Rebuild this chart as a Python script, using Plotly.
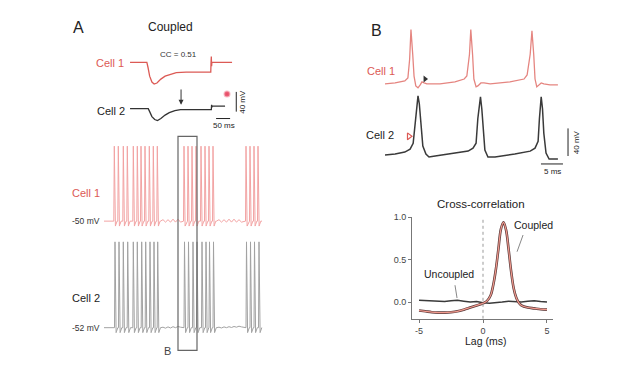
import plotly.graph_objects as go

# page body has an 8px margin; compensate so marks land on reference pixels
OX, OY = 8, 8
W, H = 606, 369
FONT = "Liberation Sans, Arial, sans-serif"
RED = "#dc5a55"
RED_LIGHT = "#f2a3a3"
DARK = "#222222"

def px(x):
    return (x - OX) / W

def py(y):
    return 1 - (y - OY) / H

# ---------------- Panel A (top): coupling test, ms vs mV deflection ----------------
cc_t1 = [0, 60, 64, 70, 78, 86, 96, 110, 125, 145, 165, 200, 288, 289, 290, 291, 292, 364]
cc_v1 = [0, 0, -10, -28, -40, -44, -42, -34, -28, -24, -21, -20, -20, 0, 12, -8, 0, 0]
cc_t2 = [0, 65, 70, 78, 88, 98, 110, 125, 140, 160, 180, 290, 291, 292, 293, 339]
cc_v2 = [0, 0, -6, -16, -22, -24, -20, -13, -8, -4, -2, -2, 8, 3, 5, 5]
cc_value = "CC = 0.51"
A_SCALE_MS = 50
A_SCALE_MV = 40

# ---------------- Panel A (bottom): spike trains ----------------
c1_spikes = [6.3, 10.3, 15.3, 19.3, 25.3, 29.3, 33, 37, 41.3, 45.3, 49.3,
             76, 80, 84, 88, 93, 97, 101, 105,
             138, 142, 146, 150]
c2_spikes = [7, 11, 15.3, 19.7, 25.3, 29.3, 33.7, 37.7, 42, 46, 49.7,
             76.5, 80.5, 85, 89, 94, 98, 101.5, 105.5,
             138.5, 142.5, 146.5, 151]
c1_base, c2_base = -50, -52
spike_dt = [-0.5, 0.0, 1.1, 1.6, 2.8]
c1_spike_shape = [0, 76, -5, -3.5, 0]
c2_spike_shape = [0, 87, -5, -3.5, 0]
c1_osc1 = [0, 1.5, -1, 1.5, -1, 2, -1, 2, -1]
c1_osc2 = [0, 1.5, -1, 1.5, -1, 2, -1, 2, -1, 1.5, -1]
c2_osc1 = [0, 0.5, -0.5, 0.8, -0.3, 1, 0, 1.2, 0.5]
c2_osc2 = [0, 0.5, -0.3, 0.8, 0, 1, 0.2, 1.2, 0.5, 1.5, 0.8]
osc_starts = [52.5, 108.5]
osc_step = 2.5
train_start, train_end = -4, 154
box_B = [70, 89]

# ---------------- Panel B (top): expanded traces ----------------
b_t1 = [0, 2.3, 4.5, 5.2, 5.6, 5.9, 6.3, 6.6, 7.0, 7.5, 8.0, 8.4, 8.9, 9.5, 12.5, 15.9, 18.0, 18.6, 19.2, 19.5,
        19.9, 20.2, 20.7, 21.1, 21.8, 22.5, 23.9, 28.4, 31.6, 32.3, 33.0, 33.4, 33.8, 34.1, 34.5, 35.0, 35.5, 36.1, 37.5, 39.3]
b_v1 = [-55, -53.6, -50.7, -46.4, -19.3, 23.6, -12.1, -43.6, -57.9, -60.7, -56.4, -52.1, -53.6, -55, -55, -52.1, -47.9, -43.6, -12.1, 23.6,
        -12.1, -47.9, -59.3, -57.9, -53.6, -53.6, -55, -52.1, -47.9, -42.1, -12.1, 22.1, -12.1, -47.9, -59.3, -56.4, -53.6, -55, -56.4, -56.4]
b_t2 = [0, 2.3, 4.5, 5.7, 6.4, 6.8, 7.3, 7.5, 7.8, 8.2, 8.6, 9.3, 10.0, 11.4, 14.8, 18.9, 20.0, 20.7, 21.1, 21.5,
        21.7, 22.0, 22.4, 22.7, 23.4, 25.0, 29.5, 33.0, 34.1, 34.8, 35.1, 35.5, 35.8, 36.1, 36.6, 37.3, 38.2, 39.3]
b_v2 = [-60, -58.6, -55.7, -51.4, -42.9, -14.3, 21.4, 25.7, 14.3, -21.4, -47.1, -58.6, -62.9, -61.4, -58.6, -54.3, -50, -42.9, -7.1, 21.4,
        24.3, 7.1, -28.6, -52.9, -62.9, -62.9, -58.6, -54.3, -50, -40, -7.1, 24.3, 7.1, -28.6, -57.1, -65.7, -65.7, -65.7]
b_off1 = 98
spikelet1 = (9.1, -47.9)   # in cell 1 (from cell 2 spike)
spikelet2 = (5.45, -32.9)  # in cell 2 (from cell 1 spike)
B_SCALE_MS = 5
B_SCALE_MV = 40

# ---------------- Cross-correlation ----------------
lag_c = [-5.0, -4.5, -4.0, -3.5, -3.0, -2.5, -2.0, -1.5, -1.0, -0.5, 0.0, 0.3, 0.6, 0.8, 1.0,
         1.2, 1.4, 1.6, 1.8, 2.0, 2.2, 2.4, 2.6, 2.8, 3.0, 3.5, 4.0, 4.5, 5.0]
r_coupled = [-0.10, -0.11, -0.12, -0.125, -0.125, -0.12, -0.11, -0.09, -0.065, -0.04, -0.015, 0.01, 0.08, 0.2, 0.38,
             0.62, 0.86, 0.94, 0.85, 0.62, 0.36, 0.16, 0.05, -0.01, -0.04, -0.065, -0.075, -0.085, -0.09]
lag_u = [-5, -4, -3, -2.5, -2, -1.5, -1, -0.5, 0, 0.5, 1, 1.5, 2, 2.5, 3, 3.5, 4, 4.5, 5]
r_uncoupled = [0.02, 0.01, 0.005, 0.015, 0.02, 0.01, 0.0, 0.005, -0.01, -0.015, -0.01, 0.0, 0.01, 0.005, 0.0, 0.01, 0.015, 0.005, 0.0]
xc_xticks = [-5, 0, 5]
xc_xtext = ["-5", "0", "5"]
xc_yticks = [0.0, 0.5, 1.0]
xc_ytext = ["0.0", "0.5", "1.0"]


def build_train(spikes, base, shape, oscs):
    pts = [(train_start, base)]
    for s in spikes:
        for dt, dv in zip(spike_dt, shape):
            pts.append((s + dt, base + dv))
    for t0, vals in zip(osc_starts, oscs):
        for i, v in enumerate(vals):
            pts.append((t0 + i * osc_step, base + v))
    pts.append((train_end, base))
    pts.sort(key=lambda p: p[0])
    return [p[0] for p in pts], [p[1] for p in pts]


fig = go.Figure()

# A top
fig.add_trace(go.Scatter(x=cc_t1, y=[v + 134 for v in cc_v1], mode="lines",
                         line=dict(color=RED, width=1.3), xaxis="x", yaxis="y"))
fig.add_trace(go.Scatter(x=cc_t2, y=[v + 40 for v in cc_v2], mode="lines",
                         line=dict(color="#333333", width=1.3), xaxis="x", yaxis="y"))
fig.add_trace(go.Scatter(x=[346], y=[70], mode="markers",
                         marker=dict(color="#e8506a", size=5, line=dict(color="rgba(240,120,140,0.5)", width=2)),
                         xaxis="x", yaxis="y"))

# A bottom
x1, y1 = build_train(c1_spikes, c1_base, c1_spike_shape, [c1_osc1, c1_osc2])
x2, y2 = build_train(c2_spikes, c2_base, c2_spike_shape, [c2_osc1, c2_osc2])
fig.add_trace(go.Scatter(x=x1, y=y1, mode="lines", line=dict(color=RED_LIGHT, width=1),
                         xaxis="x2", yaxis="y2"))
fig.add_trace(go.Scatter(x=x2, y=y2, mode="lines", line=dict(color="#a2a2a2", width=1),
                         xaxis="x2", yaxis="y3"))

# B top
fig.add_trace(go.Scatter(x=b_t1, y=[v + b_off1 for v in b_v1], mode="lines",
                         line=dict(color="#e58580", width=1.3), xaxis="x4", yaxis="y4"))
fig.add_trace(go.Scatter(x=b_t2, y=b_v2, mode="lines",
                         line=dict(color="#3a3a3a", width=1.5), xaxis="x4", yaxis="y4"))
fig.add_trace(go.Scatter(x=[spikelet1[0]], y=[spikelet1[1] + b_off1], mode="markers",
                         marker=dict(symbol="triangle-right", size=6, color="#333333"),
                         xaxis="x4", yaxis="y4"))
fig.add_trace(go.Scatter(x=[spikelet2[0]], y=[spikelet2[1]], mode="markers",
                         marker=dict(symbol="triangle-right-open", size=6, color=RED, line=dict(width=1.2)),
                         xaxis="x4", yaxis="y4"))

# Cross-correlation
fig.add_trace(go.Scatter(x=lag_u, y=r_uncoupled, mode="lines",
                         line=dict(color="#3a3a3a", width=1.5), xaxis="x5", yaxis="y5"))
fig.add_trace(go.Scatter(x=lag_c, y=r_coupled, mode="lines", line=dict(color="#5a3a3a", width=2.6, shape="spline"),
                         xaxis="x5", yaxis="y5"))
fig.add_trace(go.Scatter(x=lag_c, y=r_coupled, mode="lines", line=dict(color="#f29a8e", width=1.2, shape="spline"),
                         xaxis="x5", yaxis="y5"))

hidden = dict(visible=False, fixedrange=True)
axis_style = dict(showline=True, linecolor="#777", linewidth=1, ticks="outside", ticklen=3,
                  tickcolor="#777", tickfont=dict(size=9, color="#444"), showgrid=False,
                  zeroline=False, fixedrange=True)
fig.update_layout(
    width=W, height=H, margin=dict(l=0, r=0, t=0, b=0),
    paper_bgcolor="white", plot_bgcolor="rgba(0,0,0,0)", showlegend=False,
    font=dict(family=FONT, color=DARK),
    xaxis=dict(domain=[px(125), px(250)], range=[-18, 428], anchor="y", **hidden),
    yaxis=dict(domain=[py(125), py(40)], range=[0, 170], anchor="x", **hidden),
    xaxis2=dict(domain=[px(100), px(270)], range=[-8, 162], anchor="y2", **hidden),
    yaxis2=dict(domain=[py(228), py(138)], range=[-59, 31], anchor="x2", **hidden),
    yaxis3=dict(domain=[py(335), py(235)], range=[-60, 40], anchor="x2", **hidden),
    xaxis4=dict(domain=[px(380), px(580)], range=[-1.136, 44.32], anchor="y4", **hidden),
    yaxis4=dict(domain=[py(175), py(15)], range=[-92.86, 135.71], anchor="x4", **hidden),
    xaxis5=dict(domain=[px(412), px(553)], range=[-5.55, 5.47], anchor="y5",
                tickvals=xc_xticks, ticktext=xc_xtext, **axis_style),
    yaxis5=dict(domain=[py(318), py(215)], range=[-0.198, 1.0], anchor="x5",
                tickvals=xc_yticks, ticktext=xc_ytext, **axis_style),
)

shapes = []
# A top scale bars
shapes.append(dict(type="line", xref="x", yref="y", x0=379, x1=379, y0=34, y1=34 + A_SCALE_MV,
                   line=dict(color=DARK, width=1)))
shapes.append(dict(type="line", xref="x", yref="y", x0=307, x1=307 + A_SCALE_MS, y0=20, y1=20,
                   line=dict(color=DARK, width=1)))
# Box B
shapes.append(dict(type="rect", xref="x2", yref="paper", x0=box_B[0], x1=box_B[1], y0=py(350), y1=py(133),
                   line=dict(color="#666", width=1.2)))
# B scale bars
shapes.append(dict(type="line", xref="x4", yref="y4", x0=41.6, x1=41.6, y0=-61.4, y1=-61.4 + B_SCALE_MV,
                   line=dict(color=DARK, width=1)))
shapes.append(dict(type="line", xref="x4", yref="y4", x0=35.45, x1=35.45 + B_SCALE_MS, y0=-72.9, y1=-72.9,
                   line=dict(color=DARK, width=1)))
# cross-corr zero line and leaders
shapes.append(dict(type="line", xref="x5", yref="y5", x0=0, x1=0, y0=-0.198, y1=1.0,
                   line=dict(color="#999", width=1, dash="dot")))
shapes.append(dict(type="line", xref="x5", yref="y5", x0=3.13, x1=2.66, y0=0.79, y1=0.593,
                   line=dict(color="#888", width=1)))
shapes.append(dict(type="line", xref="x5", yref="y5", x0=-2.19, x1=-2.03, y0=0.198, y1=0.047,
                   line=dict(color="#888", width=1)))
fig.update_layout(shapes=shapes)

ann = []
def txt(x, y, text, size=10, color=DARK, **kw):
    ann.append(dict(x=px(x), y=py(y), xref="paper", yref="paper", text=text, showarrow=False,
                    font=dict(size=size, color=color, family=FONT), xanchor="center", yanchor="middle", **kw))

txt(78, 23, "A", 16)
txt(170, 22, "Coupled", 12)
txt(178, 50, cc_value, 8, "#333")
txt(110, 59, "Cell 1", 11, RED)
txt(111, 107, "Cell 2", 11)
txt(243, 98, f"{A_SCALE_MV} mV", 8, textangle=-90)
txt(224, 122, f"{A_SCALE_MS} ms", 8)
txt(86, 190, "Cell 1", 11, RED)
txt(86, 219, "-50 mV", 8.5, "#333")
txt(86, 297, "Cell 2", 11)
txt(86, 327, "-52 mV", 8.5, "#333")
txt(168, 351, "B", 11, "#444")
txt(376, 26, "B", 16)
txt(381, 67, "Cell 1", 11, RED)
txt(380, 132, "Cell 2", 11)
txt(576, 139, f"{B_SCALE_MV} mV", 8, textangle=-90)
txt(552, 169, f"{B_SCALE_MS} ms", 8)
txt(481, 202, "Cross-correlation", 11.5)
txt(485, 340, "Lag (ms)", 10.5)
txt(533, 223, "Coupled", 10.5)
txt(449, 273, "Uncoupled", 10.5)

# arrow in A top
ann.append(dict(x=182, y=48, xref="x", yref="y", ax=182, ay=82, axref="x", ayref="y", text="",
                showarrow=True, arrowhead=2, arrowsize=1, arrowwidth=1, arrowcolor="#333"))
fig.update_layout(annotations=ann)

fig.write_html("out.html")
